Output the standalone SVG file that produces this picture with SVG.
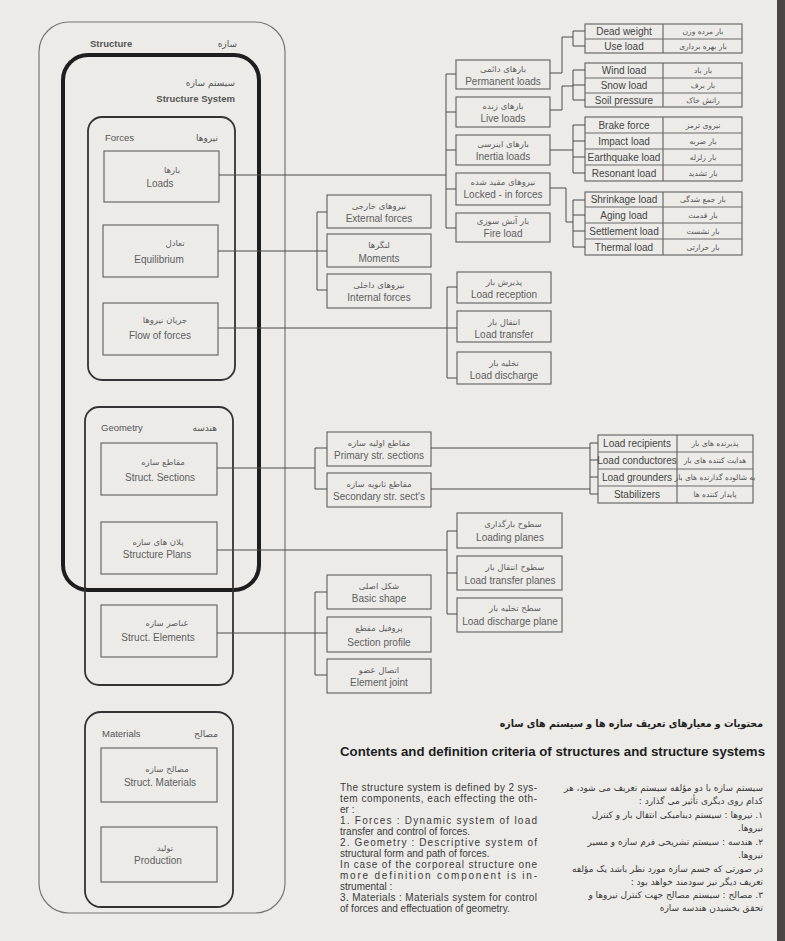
<svg xmlns="http://www.w3.org/2000/svg" width="785" height="941" viewBox="0 0 785 941">
<style>
.bg{fill:#ecebe8}
.box{fill:none;stroke:#6a6a6a;stroke-width:1.2}
.grp{fill:none;stroke:#333;stroke-width:1.8}
.ln{fill:none;stroke:#4a4a4a;stroke-width:1}
.en{font-family:"Liberation Sans",Arial,sans-serif;font-size:10px;fill:#5e5e5e;text-anchor:middle}
.fa{font-family:"DejaVu Sans",sans-serif;font-size:8.5px;fill:#5e5e5e;text-anchor:middle}
.ten{font-family:"Liberation Sans",Arial,sans-serif;font-size:10px;fill:#444;text-anchor:middle}
.tfa{font-family:"DejaVu Sans",sans-serif;font-size:7.5px;fill:#555;text-anchor:middle}
.lbl{font-family:"Liberation Sans",Arial,sans-serif;font-size:9.5px;fill:#555}
.lfa{font-family:"DejaVu Sans",sans-serif;font-size:9px;fill:#555;text-anchor:end}
.par{font-family:"Liberation Sans",Arial,sans-serif;font-size:10px;fill:#3a3a3a}
.pfa{font-family:"DejaVu Sans",sans-serif;font-size:9px;fill:#3a3a3a}
</style>
<rect class="bg" x="0" y="0" width="785" height="941"/>
<rect x="777" y="0" width="8" height="941" fill="#4a4744"/>

<g id="structure">
<rect x="39" y="22" width="246" height="891" rx="30" fill="none" stroke="#777" stroke-width="1.2"/>
<text class="lbl" x="90" y="47" font-weight="bold">Structure</text>
<text class="lfa" x="237" y="47">سازه</text>
</g>
<g id="structure-system">
<rect x="63" y="55" width="196" height="535" rx="25" fill="none" stroke="#1e1e1e" stroke-width="4"/>
<text class="lfa" x="235" y="86" font-size="10">سیستم سازه</text>
<text class="lbl" x="235" y="102" text-anchor="end" font-weight="bold" font-size="10" fill="#444">Structure System</text>
</g>
<g id="forces">
<rect class="grp" x="88" y="117" width="147" height="263" rx="14"/>
<text class="lbl" x="105" y="141">Forces</text>
<text class="lfa" x="218" y="141">نیروها</text>
</g>
<g id="geometry">
<rect class="grp" x="85" y="407" width="148" height="278" rx="14"/>
<text class="lbl" x="101" y="431">Geometry</text>
<text class="lfa" x="217" y="431">هندسه</text>
</g>
<g id="materials">
<rect class="grp" x="85" y="712" width="148" height="195" rx="16"/>
<text class="lbl" x="102" y="737">Materials</text>
<text class="lfa" x="218" y="737">مصالح</text>
</g>

<g id="loads"><rect class="box" x="104" y="151" width="115" height="51"/><text class="fa" x="172" y="173">بارها</text><text class="en" x="160" y="187">Loads</text></g>
<g id="equilibrium"><rect class="box" x="103" y="225" width="115" height="52"/><text class="fa" x="175" y="246">تعادل</text><text class="en" x="159" y="263">Equilibrium</text></g>
<g id="flow-of-forces"><rect class="box" x="103" y="303" width="115" height="52"/><text class="fa" x="165" y="323">جریان نیروها</text><text class="en" x="160" y="339">Flow of forces</text></g>
<g id="struct-sections"><rect class="box" x="101" y="443" width="116" height="52"/><text class="fa" x="163" y="465">مقاطع سازه</text><text class="en" x="160" y="481">Struct. Sections</text></g>
<g id="structure-plans"><rect class="box" x="101" y="522" width="116" height="52"/><text class="fa" x="158" y="545">پلان های سازه</text><text class="en" x="157" y="558">Structure Plans</text></g>
<g id="struct-elements"><rect class="box" x="101" y="605" width="116" height="52"/><text class="fa" x="167" y="626">عناصر سازه</text><text class="en" x="158" y="641">Struct. Elements</text></g>
<g id="struct-materials"><rect class="box" x="101" y="748" width="116" height="54"/><text class="fa" x="167" y="772">مصالح سازه</text><text class="en" x="160" y="786">Struct. Materials</text></g>
<g id="production"><rect class="box" x="101" y="827" width="116" height="55"/><text class="fa" x="165" y="851">تولید</text><text class="en" x="158" y="864">Production</text></g>

<g id="external-forces"><rect class="box" x="327" y="195" width="104" height="33"/><text class="fa" x="379" y="209">نیروهای خارجی</text><text class="en" x="379" y="222" font-size="9">External forces</text></g>
<g id="moments"><rect class="box" x="327" y="234" width="104" height="33"/><text class="fa" x="379" y="248">لنگرها</text><text class="en" x="379" y="262" font-size="9">Moments</text></g>
<g id="internal-forces"><rect class="box" x="327" y="274" width="104" height="34"/><text class="fa" x="379" y="288">نیروهای داخلی</text><text class="en" x="379" y="301" font-size="9">Internal forces</text></g>
<g id="primary-sections"><rect class="box" x="327" y="432" width="104" height="34"/><text class="fa" x="379" y="446">مقاطع اولیه سازه</text><text class="en" x="379" y="459" font-size="9">Primary str. sections</text></g>
<g id="secondary-sections"><rect class="box" x="327" y="473" width="104" height="34"/><text class="fa" x="379" y="487">مقاطع ثانویه سازه</text><text class="en" x="379" y="500" font-size="9">Secondary str. sect's</text></g>
<g id="basic-shape"><rect class="box" x="327" y="575" width="104" height="34"/><text class="fa" x="379" y="589">شکل اصلی</text><text class="en" x="379" y="602" font-size="9">Basic shape</text></g>
<g id="section-profile"><rect class="box" x="327" y="617" width="104" height="35"/><text class="fa" x="379" y="631">پروفیل مقطع</text><text class="en" x="379" y="646" font-size="9">Section profile</text></g>
<g id="element-joint"><rect class="box" x="327" y="659" width="104" height="34"/><text class="fa" x="379" y="673">اتصال عضو</text><text class="en" x="379" y="686" font-size="9">Element joint</text></g>

<g id="permanent-loads"><rect class="box" x="456" y="60" width="94" height="29"/><text class="fa" x="503" y="72">بارهای دائمی</text><text class="en" x="503" y="85" font-size="9.8">Permanent loads</text></g>
<g id="live-loads"><rect class="box" x="456" y="97" width="94" height="30"/><text class="fa" x="503" y="109">بارهای زنده</text><text class="en" x="503" y="122" font-size="9.8">Live loads</text></g>
<g id="inertia-loads"><rect class="box" x="456" y="135" width="94" height="30"/><text class="fa" x="503" y="147">بارهای اینرسی</text><text class="en" x="503" y="160" font-size="9.8">Inertia loads</text></g>
<g id="locked-in-forces"><rect class="box" x="456" y="173" width="94" height="32"/><text class="fa" x="503" y="185">نیروهای مقید شده</text><text class="en" x="503" y="198" font-size="9.8">Locked - in forces</text></g>
<g id="fire-load"><rect class="box" x="456" y="213" width="94" height="29"/><text class="fa" x="503" y="224">بار آتش سوزی</text><text class="en" x="503" y="237" font-size="9.8">Fire load</text></g>

<g id="load-reception"><rect class="box" x="457" y="272" width="94" height="31"/><text class="fa" x="504" y="285">پذیرش بار</text><text class="en" x="504" y="298" font-size="9">Load reception</text></g>
<g id="load-transfer"><rect class="box" x="457" y="311" width="94" height="31"/><text class="fa" x="504" y="325">انتقال بار</text><text class="en" x="504" y="338" font-size="9">Load transfer</text></g>
<g id="load-discharge"><rect class="box" x="457" y="352" width="94" height="32"/><text class="fa" x="504" y="366">تخلیه بار</text><text class="en" x="504" y="379" font-size="9">Load discharge</text></g>

<g id="loading-planes"><rect class="box" x="457" y="513" width="105" height="35"/><text class="fa" x="513" y="527">سطوح بارگذاری</text><text class="en" x="510" y="541" font-size="9">Loading planes</text></g>
<g id="load-transfer-planes"><rect class="box" x="457" y="556" width="105" height="34"/><text class="fa" x="515" y="570">سطوح انتقال بار</text><text class="en" x="510" y="584" font-size="9">Load transfer planes</text></g>
<g id="load-discharge-plane"><rect class="box" x="457" y="598" width="105" height="34"/><text class="fa" x="515" y="611">سطح تخلیه بار</text><text class="en" x="510" y="625" font-size="9">Load discharge plane</text></g>

<g id="table-permanent">
<rect class="box" x="585" y="24" width="157" height="29"/>
<path class="box" d="M663,24 V53 M585,39 H742"/>
<text class="ten" x="624" y="35">Dead weight</text><text class="tfa" x="703" y="34">بار مرده وزن</text>
<text class="ten" x="624" y="50">Use load</text><text class="tfa" x="703" y="49">بار بهره برداری</text>
</g>
<g id="table-live">
<rect class="box" x="585" y="63" width="157" height="44"/>
<path class="box" d="M663,63 V107 M585,78 H742 M585,93 H742"/>
<text class="ten" x="624" y="74">Wind load</text><text class="tfa" x="703" y="73">بار باد</text>
<text class="ten" x="624" y="89">Snow load</text><text class="tfa" x="703" y="88">بار برف</text>
<text class="ten" x="624" y="104">Soil pressure</text><text class="tfa" x="703" y="103">رانش خاک</text>
</g>
<g id="table-inertia">
<rect class="box" x="585" y="117" width="157" height="64"/>
<path class="box" d="M663,117 V181 M585,133 H742 M585,149 H742 M585,165 H742"/>
<text class="ten" x="624" y="129">Brake force</text><text class="tfa" x="703" y="128">نیروی ترمز</text>
<text class="ten" x="624" y="145">Impact load</text><text class="tfa" x="703" y="144">بار ضربه</text>
<text class="ten" x="624" y="161">Earthquake load</text><text class="tfa" x="703" y="160">بار زلزله</text>
<text class="ten" x="624" y="177">Resonant load</text><text class="tfa" x="703" y="176">بار تشدید</text>
</g>
<g id="table-locked">
<rect class="box" x="585" y="192" width="157" height="63"/>
<path class="box" d="M663,192 V255 M585,207 H742 M585,223 H742 M585,239 H742"/>
<text class="ten" x="624" y="203">Shrinkage load</text><text class="tfa" x="703" y="202">بار جمع شدگی</text>
<text class="ten" x="624" y="219">Aging load</text><text class="tfa" x="703" y="218">بار قدمت</text>
<text class="ten" x="624" y="235">Settlement load</text><text class="tfa" x="703" y="234">بار نشست</text>
<text class="ten" x="624" y="251">Thermal load</text><text class="tfa" x="703" y="250">بار حرارتی</text>
</g>
<g id="table-sections">
<rect class="box" x="598" y="435" width="155" height="68"/>
<path class="box" d="M677,435 V503 M598,452 H753 M598,469 H753 M598,486 H753"/>
<text class="ten" x="637" y="447" font-size="9">Load recipients</text><text class="tfa" x="715" y="446" font-size="6.5">پذیرنده های بار</text>
<text class="ten" x="637" y="464" font-size="9">Load conductores</text><text class="tfa" x="715" y="463" font-size="6.5">هدایت کننده های بار</text>
<text class="ten" x="637" y="481" font-size="9">Load grounders</text><text class="tfa" x="715" y="480" font-size="6" font-family="'DejaVu Sans Condensed','DejaVu Sans',sans-serif">به شالوده گذارنده های بار</text>
<text class="ten" x="637" y="498" font-size="9">Stabilizers</text><text class="tfa" x="715" y="497" font-size="6.5">پایدار کننده ها</text>
</g>

<g id="connectors">
<path class="ln" d="M219,175 H446 M456,74 H446 V228 H456 M446,112 H456 M446,150 H456 M446,189 H456"/>
<path class="ln" d="M550,73 H562 V37 H573 M585,31 H573 V46 H585"/>
<path class="ln" d="M550,110 H562 V86 H573 M585,70 H573 V100 H585 M573,85 H585"/>
<path class="ln" d="M550,150 H573 M585,125 H573 V173 H585 M573,141 H585 M573,157 H585"/>
<path class="ln" d="M550,188 H566 V222 H573 M585,200 H573 V247 H585 M573,215 H585 M573,231 H585"/>
<path class="ln" d="M218,251 H317 M327,212 H317 V290 H327 M317,251 H327"/>
<path class="ln" d="M218,328 H447 M457,287 H447 V378 H457 M447,328 H457"/>
<path class="ln" d="M217,468 H315 M327,448 H315 V489 H327"/>
<path class="ln" d="M431,448 H590 M431,489 H590 M598,443 H590 V494 H598 M590,460 H598 M590,477 H598"/>
<path class="ln" d="M217,550 H447 M457,531 H447 V614 H457 M447,573 H457"/>
<path class="ln" d="M217,633 H315 M327,592 H315 V675 H327 M315,633 H327"/>
</g>

<g id="title">
<text x="763" y="727" text-anchor="end" font-family="'DejaVu Sans Condensed','DejaVu Sans',sans-serif" font-size="10.5" font-weight="bold" fill="#222">محتویات و معیارهای تعریف سازه ها و سیستم های سازه</text>
<text x="340" y="756" font-family="'Liberation Sans',Arial,sans-serif" font-size="12.5" font-weight="bold" fill="#1e1e1e" textLength="425" lengthAdjust="spacingAndGlyphs">Contents and definition criteria of structures and structure systems</text>
</g>

<g id="text-en">
<text class="par" x="340" y="791" textLength="197" lengthAdjust="spacing">The structure system is defined by 2 sys-</text>
<text class="par" x="340" y="802" textLength="197" lengthAdjust="spacing">tem components, each effecting the oth-</text>
<text class="par" x="340" y="813">er :</text>
<text class="par" x="340" y="824" textLength="197" lengthAdjust="spacing">1. Forces : Dynamic system of load</text>
<text class="par" x="340" y="835">transfer and control of forces.</text>
<text class="par" x="340" y="846" textLength="197" lengthAdjust="spacing">2. Geometry : Descriptive system of</text>
<text class="par" x="340" y="857">structural form and path of forces.</text>
<text class="par" x="340" y="868" textLength="197" lengthAdjust="spacing">In case of the corporeal structure one</text>
<text class="par" x="340" y="879" textLength="197" lengthAdjust="spacing">more definition component is in-</text>
<text class="par" x="340" y="890">strumental :</text>
<text class="par" x="340" y="901" textLength="197" lengthAdjust="spacing">3. Materials : Materials system for control</text>
<text class="par" x="340" y="912">of forces and effectuation of geometry.</text>
</g>

<g id="text-fa">
<text class="pfa" x="763" y="791" direction="rtl" text-anchor="start">سیستم سازه با دو مؤلفه سیستم تعریف می شود، هر</text>
<text class="pfa" x="763" y="804" direction="rtl" text-anchor="start">کدام روی دیگری تأثیر می گذارد :</text>
<text class="pfa" x="763" y="818" direction="rtl" text-anchor="start">۱. نیروها : سیستم دینامیکی انتقال بار و کنترل</text>
<text class="pfa" x="763" y="831" direction="rtl" text-anchor="start">نیروها.</text>
<text class="pfa" x="763" y="845" direction="rtl" text-anchor="start">۲. هندسه : سیستم تشریحی فرم سازه و مسیر</text>
<text class="pfa" x="763" y="858" direction="rtl" text-anchor="start">نیروها.</text>
<text class="pfa" x="763" y="872" direction="rtl" text-anchor="start">در صورتی که جسم سازه مورد نظر باشد یک مؤلفه</text>
<text class="pfa" x="763" y="885" direction="rtl" text-anchor="start">تعریف دیگر نیز سودمند خواهد بود :</text>
<text class="pfa" x="763" y="898" direction="rtl" text-anchor="start">۳. مصالح : سیستم مصالح جهت کنترل نیروها و</text>
<text class="pfa" x="763" y="911" direction="rtl" text-anchor="start">تحقق بخشیدن هندسه سازه</text>
</g>
</svg>
